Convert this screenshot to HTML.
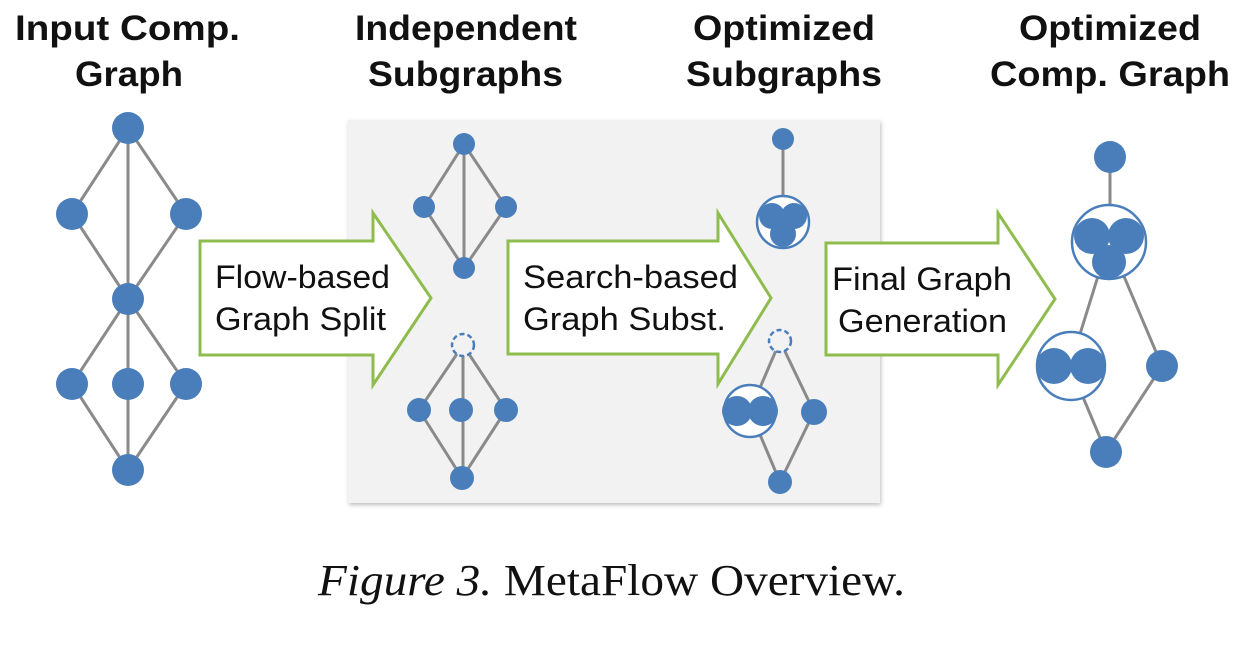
<!DOCTYPE html>
<html><head><meta charset="utf-8"><style>
html,body{margin:0;padding:0;background:#fff;width:1254px;height:654px;overflow:hidden}
svg text{font-family:"Liberation Sans",sans-serif}
</style></head><body>
<svg width="1254" height="654" viewBox="0 0 1254 654" xmlns="http://www.w3.org/2000/svg">
<defs><filter id="sh" x="-5%" y="-5%" width="110%" height="110%"><feDropShadow dx="1" dy="2" stdDeviation="2" flood-color="#000" flood-opacity="0.25"/></filter></defs>
<g font-weight="bold" font-size="35" fill="#111" lengthAdjust="spacingAndGlyphs">
<text x="15" y="40" textLength="225" lengthAdjust="spacingAndGlyphs">Input Comp.</text><text x="75" y="86" textLength="108" lengthAdjust="spacingAndGlyphs">Graph</text>
<text x="355" y="40" textLength="222" lengthAdjust="spacingAndGlyphs">Independent</text><text x="368" y="86" textLength="195" lengthAdjust="spacingAndGlyphs">Subgraphs</text>
<text x="693" y="40" textLength="182" lengthAdjust="spacingAndGlyphs">Optimized</text><text x="686" y="86" textLength="196" lengthAdjust="spacingAndGlyphs">Subgraphs</text>
<text x="1019" y="40" textLength="182" lengthAdjust="spacingAndGlyphs">Optimized</text><text x="990" y="86" textLength="240" lengthAdjust="spacingAndGlyphs">Comp. Graph</text>
</g>
<rect x="348" y="120" width="532" height="383" fill="#f2f2f2" filter="url(#sh)"/>
<g stroke="#8a8a8a" stroke-width="3" fill="none">
<path d="M128 128L72 214L128 299L186 214Z M128 128V470 M128 299L72 384L128 470L186 384Z"/>
<path d="M464 144L424 207L464 268L506 207Z M464 144V268"/>
<path d="M463 345L419 410L462 478L506 410Z M463 345V478"/>
<path d="M783 139V222"/>
<path d="M780 341L750 411L780 482L814 412Z"/>
<path d="M1110 157V241 M1109 241L1070 366L1106 452L1162 366Z"/>
</g>
<g fill="#4a7ebb">
<circle cx="128" cy="128" r="16"/><circle cx="72" cy="214" r="16"/><circle cx="186" cy="214" r="16"/>
<circle cx="128" cy="299" r="16"/><circle cx="72" cy="384" r="16"/><circle cx="128" cy="384" r="16"/><circle cx="186" cy="384" r="16"/><circle cx="128" cy="470" r="16"/>
<circle cx="464" cy="144" r="11"/><circle cx="424" cy="207" r="11"/><circle cx="506" cy="207" r="11"/><circle cx="464" cy="268" r="11"/>
<circle cx="419" cy="410" r="12"/><circle cx="461" cy="410" r="12"/><circle cx="506" cy="410" r="12"/><circle cx="462" cy="478" r="12"/>
<circle cx="783" cy="139" r="11"/><circle cx="814" cy="412" r="13"/><circle cx="780" cy="482" r="12"/>
<circle cx="1110" cy="157" r="16"/><circle cx="1162" cy="366" r="16"/><circle cx="1106" cy="452" r="16"/>
</g>
<g fill="none" stroke="#4a7ebb" stroke-width="2.5" stroke-dasharray="5,3">
<circle cx="463" cy="345" r="11" fill="#f2f2f2"/><circle cx="780" cy="341" r="11" fill="#f2f2f2"/>
</g>
<g stroke="#4a7ebb" stroke-width="2.5">
<circle cx="783" cy="222" r="26" fill="#fff"/>
<circle cx="750" cy="411" r="26" fill="#fff"/>
<circle cx="1109" cy="242" r="37" fill="#fff"/>
<circle cx="1071" cy="366" r="34" fill="#fff"/>
</g>
<g fill="#4a7ebb">
<circle cx="772" cy="216" r="13"/><circle cx="794" cy="216" r="13"/><circle cx="783" cy="234" r="13"/>
<circle cx="737" cy="411" r="15"/><circle cx="763" cy="411" r="15"/>
<circle cx="1092" cy="236" r="18"/><circle cx="1126" cy="236" r="18"/><circle cx="1109" cy="262" r="17"/>
<circle cx="1054" cy="366" r="18"/><circle cx="1088" cy="366" r="18"/>
</g>
<g fill="#fff" stroke="#8fbc4f" stroke-width="3">
<path d="M200 241H373V213L431 298L373 385V355H200Z"/>
<path d="M508 241H718V213L771 298L718 384V354H508Z"/>
<path d="M826 243H998V213L1055 299L998 385V355H826Z"/>
</g>
<g font-size="32" fill="#111">
<text x="215" y="288" textLength="175" lengthAdjust="spacingAndGlyphs">Flow-based</text><text x="215" y="330" textLength="171" lengthAdjust="spacingAndGlyphs">Graph Split</text>
<text x="523" y="288" textLength="215" lengthAdjust="spacingAndGlyphs">Search-based</text><text x="523" y="330" textLength="203" lengthAdjust="spacingAndGlyphs">Graph Subst.</text>
<text x="832" y="290" textLength="180" lengthAdjust="spacingAndGlyphs">Final Graph</text><text x="838" y="332" textLength="169" lengthAdjust="spacingAndGlyphs">Generation</text>
</g>
<text x="318" y="595" textLength="587" lengthAdjust="spacingAndGlyphs" font-size="44" fill="#111" style="font-family:'Liberation Serif',serif"><tspan font-style="italic">Figure 3.</tspan> MetaFlow Overview.</text>
</svg>
</body></html>
